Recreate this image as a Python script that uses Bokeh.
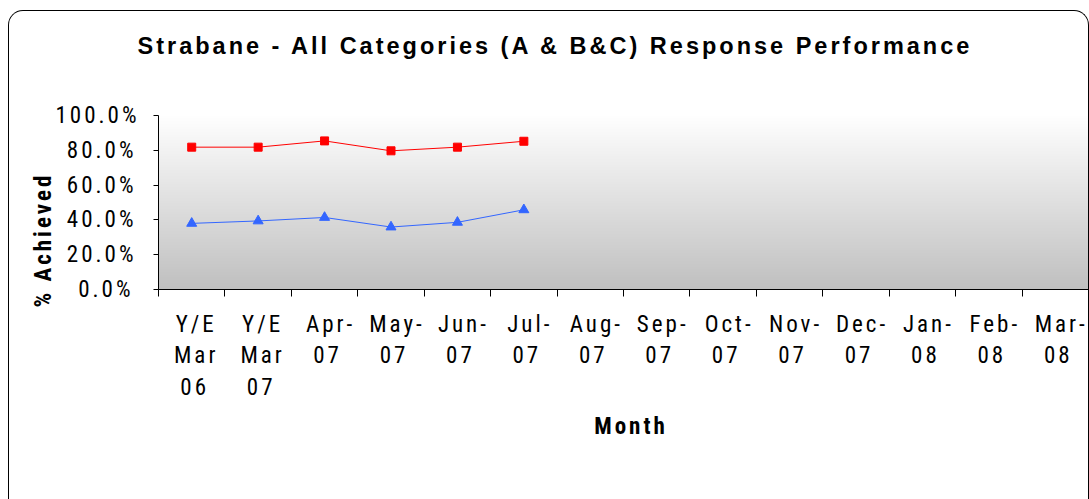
import numpy as np
from bokeh.plotting import figure
from bokeh.models import (Range1d, LinearAxis, FixedTicker, NumeralTickFormatter,
                          Legend, LegendItem, Title)
from bokeh.embed import file_html
from bokeh.resources import INLINE

# ---------------- data ----------------
months = ["Y/E Mar 06", "Y/E Mar 07", "Apr-07", "May-07", "Jun-07", "Jul-07", "Aug-07",
          "Sep-07", "Oct-07", "Nov-07", "Dec-07", "Jan-08", "Feb-08", "Mar-08"]
tick_labels = ["Y/E\nMar\n06", "Y/E\nMar\n07", "Apr-\n07", "May-\n07", "Jun-\n07", "Jul-\n07",
               "Aug-\n07", "Sep-\n07", "Oct-\n07", "Nov-\n07", "Dec-\n07", "Jan-\n08",
               "Feb-\n08", "Mar-\n08"]
measured_months = ["Y/E Mar 06", "Y/E Mar 07", "Apr-07", "May-07", "Jun-07", "Jul-07"]
strabane_8 = [0.380, 0.394, 0.414, 0.359, 0.386, 0.458]
strabane_21 = [0.818, 0.818, 0.854, 0.797, 0.818, 0.852]
y_ticks = [0.0, 0.2, 0.4, 0.6, 0.8, 1.0]

title_text = "Strabane - All Categories (A & B&C) Response Performance"
x_title = "Month"
y_title = "% Achieved"
series_names = ["Strabane 8 mins", "Strabane 21 mins"]

FONT = "Roboto Condensed"
FONT_TITLE = "Liberation Sans"
BLUE = "#3366ff"
RED = "#ff0000"

n_cat = len(months)
cat_pos = {m: i + 0.5 for i, m in enumerate(months)}
x_meas = [cat_pos[m] for m in measured_months]

p = figure(frame_width=930, frame_height=174,
           x_range=Range1d(0, n_cat), y_range=Range1d(0, 1),
           output_backend="svg", toolbar_location=None,
           x_axis_location=None, y_axis_location="left",
           min_border_left=149, min_border_right=0, min_border_top=104, min_border_bottom=210)
p.styles = {"letter-spacing": "3px", "margin-left": "8px", "margin-top": "10px",
            "border-left": "1px solid black", "border-top": "1px solid black",
            "border-right": "1px solid black",
            "border-top-left-radius": "15px", "border-top-right-radius": "15px"}

p.xgrid.visible = False
p.ygrid.visible = False
p.outline_line_color = None
p.border_fill_alpha = 0
p.background_fill_color = "white"

# spacer between the frame and the chart title
p.add_layout(Title(text=" ", text_font=FONT_TITLE, text_font_size="10px", standoff=42),
             "above")

# title
p.title.text = title_text
p.title.align = "left"
p.title.offset = -21
p.title.standoff = 4
p.title.text_font = FONT_TITLE
p.title.text_font_style = "bold"
p.title.text_font_size = "23.5px"
p.title.text_color = "black"

# gradient plot-area background (white top -> grey bottom)
nrow = 256
shade = np.linspace(192, 255, nrow).astype(np.uint8)
img = np.empty((nrow, 1), dtype=np.uint32)
view = img.view(dtype=np.uint8).reshape((nrow, 1, 4))
view[:, 0, 0] = shade
view[:, 0, 1] = shade
view[:, 0, 2] = shade
view[:, 0, 3] = 255
p.image_rgba(image=[img], x=p.x_range.start, y=p.y_range.start,
             dw=p.x_range.end - p.x_range.start,
             dh=p.y_range.end - p.y_range.start, level="image")

# y axis
yax = p.yaxis[0]
yax.ticker = FixedTicker(ticks=y_ticks)
yax.formatter = NumeralTickFormatter(format="0.0%")
yax.minor_tick_line_color = None
yax.major_tick_in = 0
yax.major_tick_out = 5
yax.major_label_standoff = 32
yax.major_label_text_font = FONT
yax.major_label_text_font_size = "23px"
yax.major_label_text_color = "black"
yax.axis_line_color = "black"
yax.major_tick_line_color = "black"

p.add_layout(Title(text=y_title, align="left", offset=-18, standoff=-8, text_color="black",
                   text_font=FONT, text_font_style="bold", text_font_size="23px"), "left")

# x axis: labels at category centres, tick marks at category boundaries
xax = LinearAxis(ticker=FixedTicker(ticks=[cat_pos[m] for m in months],
                                    minor_ticks=list(range(n_cat + 1))),
                 major_label_overrides={cat_pos[m]: lab for m, lab in zip(months, tick_labels)})
xax.major_tick_in = 0
xax.major_tick_out = 0
xax.minor_tick_in = 0
xax.minor_tick_out = 7
xax.minor_tick_line_color = "black"
xax.axis_line_color = "black"
xax.major_label_standoff = 14
xax.major_label_text_font = FONT
xax.major_label_text_font_size = "23px"
xax.major_label_text_line_height = 1.17
xax.major_label_text_color = "black"
xax.axis_label = x_title
xax.axis_label_standoff = 9
xax.axis_label_text_font = FONT
xax.axis_label_text_font_style = "bold"
xax.axis_label_text_font_size = "23px"
xax.axis_label_text_color = "black"
p.add_layout(xax, "below")

# series
l8 = p.line(x_meas, strabane_8, line_color=BLUE, line_width=1)
m8 = p.scatter(x_meas, strabane_8, marker="triangle", size=10,
               fill_color=BLUE, line_color=BLUE)
l21 = p.line(x_meas, strabane_21, line_color=RED, line_width=1)
m21 = p.scatter(x_meas, strabane_21, marker="square", size=8,
                fill_color=RED, line_color=RED)

legend = Legend(items=[LegendItem(label=series_names[0], renderers=[l8, m8]),
                       LegendItem(label=series_names[1], renderers=[l21, m21])],
                orientation="horizontal", location="top_center", margin=-71,
                padding=8, spacing=16, glyph_width=34, glyph_height=20, label_standoff=6,
                label_text_font=FONT, label_text_font_size="22px", label_text_color="black",
                border_line_color="#666666", border_line_width=1.5,
                background_fill_color="white", background_fill_alpha=1)
p.add_layout(legend, "below")

open("out.html", "w").write(file_html(p, INLINE))
